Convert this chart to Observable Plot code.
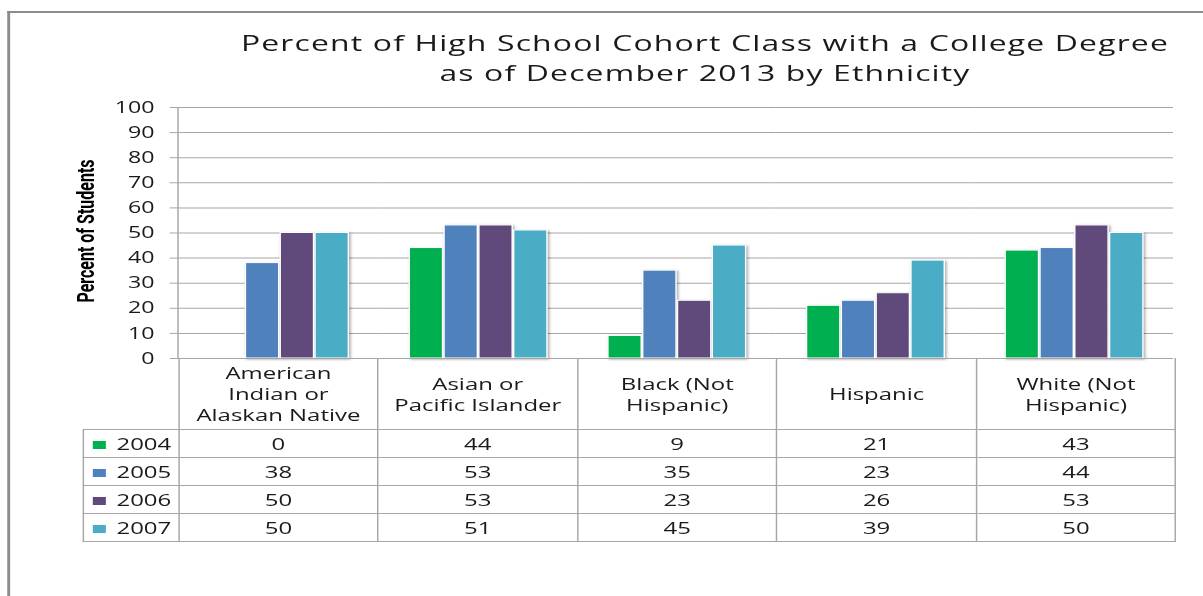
<!DOCTYPE html>
<html><head><meta charset="utf-8">
<script src="https://cdn.jsdelivr.net/npm/d3@7"></script>
<script src="https://cdn.jsdelivr.net/npm/@observablehq/plot@0.6"></script>
<style>
html,body{margin:0;padding:0;background:#fff;overflow:hidden;width:1203px;height:596px;}
#stage{position:absolute;left:0;top:0;height:596px;transform-origin:0 0;font-family:"Open Sans",sans-serif;color:#1a1a1a;}
#frame{position:absolute;left:4.8px;top:11px;width:1200px;height:800px;border-left:2px solid #8c8c8c;border-top:2px solid #8c8c8c;}
#title{position:absolute;left:86.2px;width:800px;top:27px;text-align:center;font-size:22px;line-height:30px;letter-spacing:0.8px;color:#1a1a1a;}
#ylab{position:absolute;left:59.3px;top:231px;transform:translate(-50%,-50%) rotate(-90deg);white-space:nowrap;font:700 16px Roboto,"Open Sans",sans-serif;color:#000;}
#chart{position:absolute;left:0;top:0;}
#chart svg{overflow:visible;}
g[aria-label="y-axis tick label"]{fill:#1a1a1a;}
g[aria-label="bar"]{filter:drop-shadow(1px 1px 1.2px rgba(0,0,0,0.35));}
#tbl{position:absolute;top:358px;border-collapse:collapse;table-layout:fixed;font-size:16.5px;color:#1a1a1a;}
#tbl td{border:1px solid #a6a6a6;text-align:center;padding:0;}
#tbl tr.head td{height:71px;border-top:none;line-height:21px;white-space:pre-line;}
#tbl tr.head td.corner{border-left:none;border-top:none;}
#tbl tr.row td{height:27px;}
#tbl td.leg{text-align:left;padding-left:6.7px;}
.sw{display:inline-block;width:8.5px;height:8px;margin-right:7.6px;vertical-align:1px;}
</style>
</head><body>
<div id="stage">
  <div id="frame"></div>
  <div id="title"></div>
  <div id="ylab"></div>
  <div id="chart"></div>
  <table id="tbl"></table>
</div>
<script>
// ---- data ----
const categories = ["American Indian or Alaskan Native", "Asian or Pacific Islander", "Black (Not Hispanic)", "Hispanic", "White (Not Hispanic)"];
const categoryLabels = ["American\nIndian or\nAlaskan Native", "Asian or\nPacific Islander", "Black (Not\nHispanic)", "Hispanic", "White (Not\nHispanic)"];
const years = ["2004", "2005", "2006", "2007"];
const v2004 = [0, 44, 9, 21, 43];
const v2005 = [38, 53, 35, 23, 44];
const v2006 = [50, 53, 23, 26, 53];
const v2007 = [50, 51, 45, 39, 50];
const yearColors = ["#00b050", "#4f81bd", "#604a7b", "#4bacc6"];
const yTicks = [0, 10, 20, 30, 40, 50, 60, 70, 80, 90, 100];
const titleLines = ["Percent of High School Cohort Class with a College Degree", "as of December 2013 by Ethnicity"];
const yLabel = "Percent of Students";

// ---- layout (the reference is horizontally stretched) ----
const S = 1.45;
const W = 1203 / S;
const left = 178 / S, right = 1175 / S, legLeft = 82 / S;

const series = [v2004, v2005, v2006, v2007];
const data = categories.flatMap((c, i) => years.map((y, j) => ({category: c, year: y, value: series[j][i]})));

const stage = document.getElementById("stage");
stage.style.width = W + "px";
stage.style.transform = `scaleX(${S})`;
document.getElementById("title").innerHTML = titleLines.join("<br>");
document.getElementById("ylab").textContent = yLabel;

const plot = Plot.plot({
  width: W,
  height: 380,
  marginTop: 107,
  marginBottom: 22,
  marginLeft: left,
  marginRight: W - right,
  style: {fontFamily: "Open Sans", fontSize: "16px", color: "#a6a6a6", background: "transparent"},
  fx: {domain: categories, padding: 0, axis: null, label: null},
  x: {domain: years, paddingInner: 0.06, paddingOuter: 0.8, axis: null, label: null},
  y: {domain: [0, 100], axis: null, label: null},
  color: {domain: years, range: yearColors},
  marks: [
    Plot.ruleY(yTicks.filter(d => d > 0), {stroke: "#a6a6a6"}),
    Plot.barY(data, {fx: "category", x: "year", y: "value", fill: "year", stroke: "white", strokeWidth: 1}),
    Plot.ruleY([0], {stroke: "#a6a6a6"}),
    Plot.axisY({ticks: yTicks, tickSize: 7, tickPadding: 11, fontSize: 16, label: null})
  ]
});
const ys = plot.scale("y");
d3.select(plot).append("line")
  .attr("x1", left).attr("x2", left)
  .attr("y1", ys.apply(0)).attr("y2", ys.apply(100))
  .attr("stroke", "#a6a6a6");
document.getElementById("chart").appendChild(plot);

// ---- data table ----
const tbl = d3.select("#tbl").style("left", legLeft + "px").style("width", (right - legLeft) + "px");
const cg = tbl.append("colgroup");
cg.append("col").style("width", (left - legLeft) + "px");
categories.forEach(() => cg.append("col").style("width", ((right - left) / categories.length) + "px"));
const head = tbl.append("tr").attr("class", "head");
head.append("td").attr("class", "corner");
categoryLabels.forEach(l => head.append("td").text(l));
years.forEach((y, j) => {
  const tr = tbl.append("tr").attr("class", "row");
  const td = tr.append("td").attr("class", "leg");
  td.append("span").attr("class", "sw").style("background", yearColors[j]);
  td.append("span").text(y);
  series[j].forEach(v => tr.append("td").text(v));
});
</script>
</body></html>
